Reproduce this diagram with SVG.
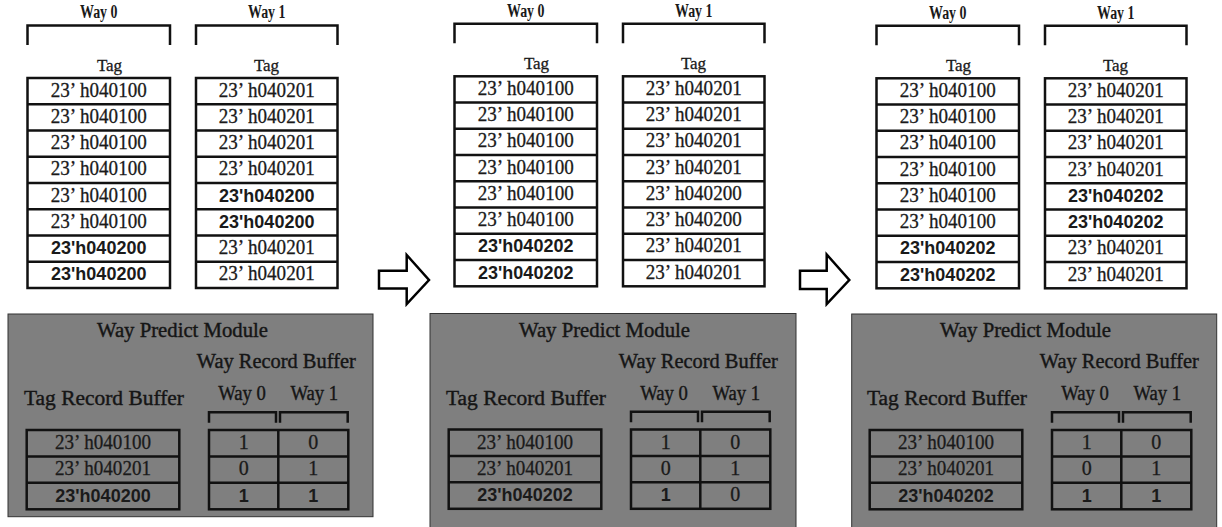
<svg xmlns="http://www.w3.org/2000/svg" width="1222" height="527" viewBox="0 0 1222 527">
  <style>
    .bg { fill: #ffffff; }
    .grid { fill: none; stroke: #111; stroke-width: 2.5; }
    .cell { fill: #ffffff; stroke: #111; stroke-width: 2.5; }
    .brk { fill: none; stroke: #111; stroke-width: 2.5; }
    .mod { fill: #7f7f7f; stroke: #333; stroke-width: 1; }
    .waytop { font-family: "Liberation Serif", serif; font-weight: bold; font-size: 18.5px; fill: #1a1a1a; text-anchor: middle; }
    .lbl { font-family: "Liberation Serif", serif; font-size: 20px; fill: #151515; stroke: #151515; stroke-width: 0.4; text-anchor: middle; }
    .tag { font-family: "Liberation Serif", serif; font-size: 17px; fill: #1a1a1a; stroke: #1a1a1a; stroke-width: 0.3; text-anchor: middle; }
    .ser { font-family: "Liberation Serif", serif; font-size: 20px; fill: #1a1a1a; stroke: #1a1a1a; stroke-width: 0.3; text-anchor: middle; }
    .sb { font-family: "Liberation Sans", sans-serif; font-weight: bold; font-size: 18px; fill: #1a1a1a; text-anchor: middle; }
    .arrow { fill: #ffffff; stroke: #000; stroke-width: 2.5; stroke-linejoin: miter; }
  </style>
  <defs>
    <!-- cache array frame: two ways, eight sets each -->
    <g id="cache-frame">
      <path class="brk" d="M27.5 45V25.5H170V45"/>
      <path class="brk" d="M196 45V25.5H337.5V45"/>
      <text class="waytop" x="98.75" y="18.3" textLength="37.5" lengthAdjust="spacingAndGlyphs">Way 0</text>
      <text class="waytop" x="266.75" y="18.3" textLength="37.5" lengthAdjust="spacingAndGlyphs">Way 1</text>
      <text class="tag" x="109.5" y="70.5">Tag</text>
      <text class="tag" x="266.5" y="70.5">Tag</text>
      <rect class="cell" x="27.5" y="78" width="142.5" height="210"/>
      <rect class="cell" x="196" y="78" width="141.5" height="210"/>
      <path class="grid" d="M27.5 104.25H170M27.5 130.5H170M27.5 156.75H170M27.5 183H170M27.5 209.25H170M27.5 235.5H170M27.5 261.75H170"/>
      <path class="grid" d="M196 104.25H337.5M196 130.5H337.5M196 156.75H337.5M196 183H337.5M196 209.25H337.5M196 235.5H337.5M196 261.75H337.5"/>
    </g>
    <!-- way predict module: tag record buffer and way record buffer -->
    <g id="module-frame">
      <text class="lbl" x="182.5" y="337.3" textLength="171" lengthAdjust="spacingAndGlyphs">Way Predict Module</text>
      <text class="lbl" x="276.3" y="368.3" textLength="159" lengthAdjust="spacingAndGlyphs">Way Record Buffer</text>
      <text class="lbl" x="104" y="405" textLength="160" lengthAdjust="spacingAndGlyphs">Tag Record Buffer</text>
      <text class="lbl" x="242" y="400" textLength="47.7" lengthAdjust="spacingAndGlyphs">Way 0</text>
      <text class="lbl" x="314.3" y="400" textLength="47.7" lengthAdjust="spacingAndGlyphs">Way 1</text>
      <path class="brk" d="M209 422.7V412.3H276V422.7"/>
      <path class="brk" d="M280 422.7V412.3H347.7V422.7"/>
      <rect class="grid" x="26.7" y="430" width="152.6" height="79.3"/>
      <path class="grid" d="M26.7 456.4H179.3M26.7 482.8H179.3"/>
      <rect class="grid" x="209" y="430" width="139.3" height="79.3"/>
      <path class="grid" d="M278.3 430V509.3M209 456.4H348.3M209 482.8H348.3"/>
    </g>
  </defs>

  <rect class="bg" x="0" y="0" width="1222" height="527"/>

  <!-- step 1: cache contents -->
  <g id="cache-1">
    <use href="#cache-frame"/>
    <text class="ser" x="98.75" y="96.7" textLength="96" lengthAdjust="spacingAndGlyphs">23’<tspan dx="4">h040100</tspan></text>
    <text class="ser" x="98.75" y="122.95" textLength="96" lengthAdjust="spacingAndGlyphs">23’<tspan dx="4">h040100</tspan></text>
    <text class="ser" x="98.75" y="149.2" textLength="96" lengthAdjust="spacingAndGlyphs">23’<tspan dx="4">h040100</tspan></text>
    <text class="ser" x="98.75" y="175.45" textLength="96" lengthAdjust="spacingAndGlyphs">23’<tspan dx="4">h040100</tspan></text>
    <text class="ser" x="98.75" y="201.7" textLength="96" lengthAdjust="spacingAndGlyphs">23’<tspan dx="4">h040100</tspan></text>
    <text class="ser" x="98.75" y="227.95" textLength="96" lengthAdjust="spacingAndGlyphs">23’<tspan dx="4">h040100</tspan></text>
    <text class="sb" x="98.75" y="254.2">23'h040200</text>
    <text class="sb" x="98.75" y="280.45">23'h040200</text>
    <text class="ser" x="266.75" y="96.7" textLength="96" lengthAdjust="spacingAndGlyphs">23’<tspan dx="4">h040201</tspan></text>
    <text class="ser" x="266.75" y="122.95" textLength="96" lengthAdjust="spacingAndGlyphs">23’<tspan dx="4">h040201</tspan></text>
    <text class="ser" x="266.75" y="149.2" textLength="96" lengthAdjust="spacingAndGlyphs">23’<tspan dx="4">h040201</tspan></text>
    <text class="ser" x="266.75" y="175.45" textLength="96" lengthAdjust="spacingAndGlyphs">23’<tspan dx="4">h040201</tspan></text>
    <text class="sb" x="266.75" y="201.7">23'h040200</text>
    <text class="sb" x="266.75" y="227.95">23'h040200</text>
    <text class="ser" x="266.75" y="254.2" textLength="96" lengthAdjust="spacingAndGlyphs">23’<tspan dx="4">h040201</tspan></text>
    <text class="ser" x="266.75" y="280.45" textLength="96" lengthAdjust="spacingAndGlyphs">23’<tspan dx="4">h040201</tspan></text>
  </g>

  <!-- step 1: predictor state -->
  <g id="module-1">
    <rect class="mod" x="8" y="314" width="365" height="202.7"/>
    <use href="#module-frame"/>
    <text class="ser" x="103" y="449" textLength="96" lengthAdjust="spacingAndGlyphs">23’<tspan dx="4">h040100</tspan></text>
    <text class="ser" x="103" y="475.4" textLength="96" lengthAdjust="spacingAndGlyphs">23’<tspan dx="4">h040201</tspan></text>
    <text class="sb" x="103" y="501.8">23'h040200</text>
    <text class="ser" x="243.7" y="449">1</text>
    <text class="ser" x="313.3" y="449">0</text>
    <text class="ser" x="243.7" y="475.4">0</text>
    <text class="ser" x="313.3" y="475.4">1</text>
    <text class="sb" x="243.7" y="501.8">1</text>
    <text class="sb" x="313.3" y="501.8">1</text>
  </g>

  <!-- step 2: cache contents -->
  <g id="cache-2" transform="translate(427,-1.7)">
    <use href="#cache-frame"/>
    <text class="ser" x="98.75" y="96.7" textLength="96" lengthAdjust="spacingAndGlyphs">23’<tspan dx="4">h040100</tspan></text>
    <text class="ser" x="98.75" y="122.95" textLength="96" lengthAdjust="spacingAndGlyphs">23’<tspan dx="4">h040100</tspan></text>
    <text class="ser" x="98.75" y="149.2" textLength="96" lengthAdjust="spacingAndGlyphs">23’<tspan dx="4">h040100</tspan></text>
    <text class="ser" x="98.75" y="175.45" textLength="96" lengthAdjust="spacingAndGlyphs">23’<tspan dx="4">h040100</tspan></text>
    <text class="ser" x="98.75" y="201.7" textLength="96" lengthAdjust="spacingAndGlyphs">23’<tspan dx="4">h040100</tspan></text>
    <text class="ser" x="98.75" y="227.95" textLength="96" lengthAdjust="spacingAndGlyphs">23’<tspan dx="4">h040100</tspan></text>
    <text class="sb" x="98.75" y="254.2">23'h040202</text>
    <text class="sb" x="98.75" y="280.45">23'h040202</text>
    <text class="ser" x="266.75" y="96.7" textLength="96" lengthAdjust="spacingAndGlyphs">23’<tspan dx="4">h040201</tspan></text>
    <text class="ser" x="266.75" y="122.95" textLength="96" lengthAdjust="spacingAndGlyphs">23’<tspan dx="4">h040201</tspan></text>
    <text class="ser" x="266.75" y="149.2" textLength="96" lengthAdjust="spacingAndGlyphs">23’<tspan dx="4">h040201</tspan></text>
    <text class="ser" x="266.75" y="175.45" textLength="96" lengthAdjust="spacingAndGlyphs">23’<tspan dx="4">h040201</tspan></text>
    <text class="ser" x="266.75" y="201.7" textLength="96" lengthAdjust="spacingAndGlyphs">23’<tspan dx="4">h040200</tspan></text>
    <text class="ser" x="266.75" y="227.95" textLength="96" lengthAdjust="spacingAndGlyphs">23’<tspan dx="4">h040200</tspan></text>
    <text class="ser" x="266.75" y="254.2" textLength="96" lengthAdjust="spacingAndGlyphs">23’<tspan dx="4">h040201</tspan></text>
    <text class="ser" x="266.75" y="280.45" textLength="96" lengthAdjust="spacingAndGlyphs">23’<tspan dx="4">h040201</tspan></text>
  </g>

  <!-- step 2: predictor state -->
  <g id="module-2" transform="translate(422,-0.5)">
    <rect class="mod" x="8" y="314" width="366" height="220"/>
    <use href="#module-frame"/>
    <text class="ser" x="103" y="449" textLength="96" lengthAdjust="spacingAndGlyphs">23’<tspan dx="4">h040100</tspan></text>
    <text class="ser" x="103" y="475.4" textLength="96" lengthAdjust="spacingAndGlyphs">23’<tspan dx="4">h040201</tspan></text>
    <text class="sb" x="103" y="501.8">23'h040202</text>
    <text class="ser" x="243.7" y="449">1</text>
    <text class="ser" x="313.3" y="449">0</text>
    <text class="ser" x="243.7" y="475.4">0</text>
    <text class="ser" x="313.3" y="475.4">1</text>
    <text class="sb" x="243.7" y="501.8">1</text>
    <text class="ser" x="313.3" y="501.8">0</text>
  </g>

  <!-- step 3: cache contents -->
  <g id="cache-3" transform="translate(849,0.3)">
    <use href="#cache-frame"/>
    <text class="ser" x="98.75" y="96.7" textLength="96" lengthAdjust="spacingAndGlyphs">23’<tspan dx="4">h040100</tspan></text>
    <text class="ser" x="98.75" y="122.95" textLength="96" lengthAdjust="spacingAndGlyphs">23’<tspan dx="4">h040100</tspan></text>
    <text class="ser" x="98.75" y="149.2" textLength="96" lengthAdjust="spacingAndGlyphs">23’<tspan dx="4">h040100</tspan></text>
    <text class="ser" x="98.75" y="175.45" textLength="96" lengthAdjust="spacingAndGlyphs">23’<tspan dx="4">h040100</tspan></text>
    <text class="ser" x="98.75" y="201.7" textLength="96" lengthAdjust="spacingAndGlyphs">23’<tspan dx="4">h040100</tspan></text>
    <text class="ser" x="98.75" y="227.95" textLength="96" lengthAdjust="spacingAndGlyphs">23’<tspan dx="4">h040100</tspan></text>
    <text class="sb" x="98.75" y="254.2">23'h040202</text>
    <text class="sb" x="98.75" y="280.45">23'h040202</text>
    <text class="ser" x="266.75" y="96.7" textLength="96" lengthAdjust="spacingAndGlyphs">23’<tspan dx="4">h040201</tspan></text>
    <text class="ser" x="266.75" y="122.95" textLength="96" lengthAdjust="spacingAndGlyphs">23’<tspan dx="4">h040201</tspan></text>
    <text class="ser" x="266.75" y="149.2" textLength="96" lengthAdjust="spacingAndGlyphs">23’<tspan dx="4">h040201</tspan></text>
    <text class="ser" x="266.75" y="175.45" textLength="96" lengthAdjust="spacingAndGlyphs">23’<tspan dx="4">h040201</tspan></text>
    <text class="sb" x="266.75" y="201.7">23'h040202</text>
    <text class="sb" x="266.75" y="227.95">23'h040202</text>
    <text class="ser" x="266.75" y="254.2" textLength="96" lengthAdjust="spacingAndGlyphs">23’<tspan dx="4">h040201</tspan></text>
    <text class="ser" x="266.75" y="280.45" textLength="96" lengthAdjust="spacingAndGlyphs">23’<tspan dx="4">h040201</tspan></text>
  </g>

  <!-- step 3: predictor state -->
  <g id="module-3" transform="translate(843,0)">
    <rect class="mod" x="8.7" y="314" width="365" height="220"/>
    <use href="#module-frame"/>
    <text class="ser" x="103" y="449" textLength="96" lengthAdjust="spacingAndGlyphs">23’<tspan dx="4">h040100</tspan></text>
    <text class="ser" x="103" y="475.4" textLength="96" lengthAdjust="spacingAndGlyphs">23’<tspan dx="4">h040201</tspan></text>
    <text class="sb" x="103" y="501.8">23'h040202</text>
    <text class="ser" x="243.7" y="449">1</text>
    <text class="ser" x="313.3" y="449">0</text>
    <text class="ser" x="243.7" y="475.4">0</text>
    <text class="ser" x="313.3" y="475.4">1</text>
    <text class="sb" x="243.7" y="501.8">1</text>
    <text class="sb" x="313.3" y="501.8">1</text>
  </g>

  <!-- transitions between steps -->
  <g id="connectors">
    <polygon class="arrow" points="379,270.7 406.7,270.7 406.7,255 429,280 406.7,304 406.7,288.5 379,288.5"/>
    <polygon class="arrow" points="800,270.7 826.7,270.7 826.7,254.5 849.3,280 826.7,304 826.7,289 800,289"/>
  </g>
</svg>
